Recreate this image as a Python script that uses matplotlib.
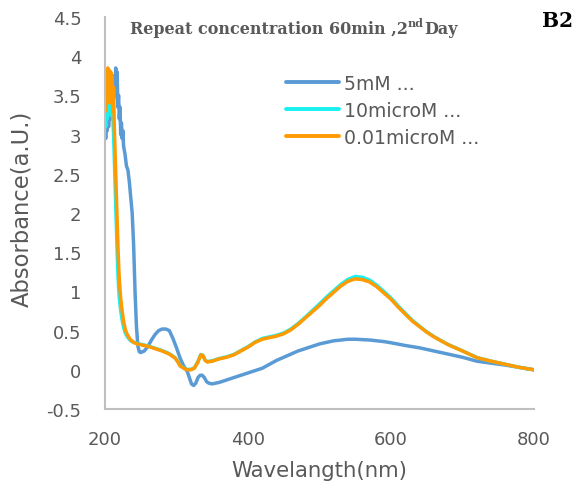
import matplotlib
matplotlib.use("Agg")
import matplotlib.pyplot as plt

# ---------------- data ----------------
wl_5mM = [200, 201, 202, 203, 204, 205, 206, 207, 208, 209, 210, 211, 212, 213, 214, 215,
          216, 217, 218, 219, 220, 221, 222, 223, 224, 225, 226, 228, 230, 232, 234, 236,
          238, 240, 242, 244, 246, 248, 250, 255, 260, 265, 270, 275, 280, 285, 290, 295,
          300, 305, 310, 315, 318, 321, 324, 327, 330, 333, 336, 339, 342, 345, 350, 360,
          370, 380, 390, 400, 410, 420, 430, 440, 450, 460, 470, 480, 490, 500, 510, 520,
          530, 540, 550, 560, 570, 580, 590, 600, 620, 640, 660, 680, 700, 720, 740, 760,
          780, 800]
abs_5mM = [3.2, 2.95, 3.35, 3.05, 3.4, 3.1, 3.3, 3.5, 3.2, 3.6, 3.3, 3.7, 3.45, 3.75, 3.5, 3.85,
           3.55, 3.8, 3.35, 3.5, 3.2, 3.35, 3.0, 3.15, 2.95, 3.05, 2.85, 2.75, 2.6, 2.55, 2.4, 2.2,
           2.0, 1.6, 1.0, 0.55, 0.3, 0.23, 0.22, 0.24, 0.3, 0.38, 0.45, 0.5, 0.52, 0.52, 0.5, 0.4,
           0.28, 0.15, 0.05, -0.02, -0.1, -0.18, -0.2, -0.17, -0.1, -0.07, -0.07, -0.1, -0.15, -0.17, -0.18, -0.16,
           -0.13, -0.1, -0.07, -0.04, -0.01, 0.02, 0.07, 0.12, 0.16, 0.2, 0.24, 0.27, 0.3, 0.33, 0.35, 0.37,
           0.38, 0.39, 0.39, 0.385, 0.38, 0.37, 0.36, 0.345, 0.31, 0.28, 0.24, 0.2, 0.16, 0.11, 0.085, 0.06,
           0.03, 0.0]

wl_10uM = [200, 201, 202, 203, 204, 205, 206, 207, 208, 209, 210, 211, 212, 213, 214, 215,
           216, 217, 218, 219, 220, 222, 224, 226, 228, 230, 233, 236, 240, 245, 250, 260,
           270, 280, 290, 298, 302, 305, 310, 315, 320, 325, 330, 334, 337, 340, 343, 350,
           360, 370, 380, 390, 400, 410, 420, 430, 440, 450, 460, 470, 480, 490, 500, 510,
           520, 530, 540, 550, 560, 570, 580, 590, 600, 610, 620, 630, 640, 650, 660, 670,
           680, 690, 700, 720, 740, 760, 780, 800]
abs_10uM = [3.6, 3.1, 3.7, 3.2, 3.75, 3.3, 3.7, 3.25, 3.65, 3.3, 3.55, 3.2, 3.0, 2.7, 2.4, 2.1,
            1.8, 1.5, 1.25, 1.05, 0.92, 0.75, 0.63, 0.54, 0.48, 0.44, 0.4, 0.37, 0.35, 0.335, 0.325, 0.305,
            0.275, 0.245, 0.205, 0.155, 0.105, 0.055, 0.025, 0.005, 0.005, 0.025, 0.105, 0.195, 0.185, 0.125, 0.105, 0.115,
            0.145, 0.165, 0.195, 0.245, 0.295, 0.355, 0.4, 0.42, 0.44, 0.47, 0.52, 0.59, 0.67, 0.755, 0.84, 0.93,
            1.01, 1.09, 1.155, 1.19, 1.18, 1.145, 1.08, 1.0, 0.915, 0.815, 0.72, 0.63, 0.555, 0.485, 0.425, 0.372,
            0.322, 0.282, 0.242, 0.157, 0.11, 0.07, 0.03, 0.0]

wl_001uM = [201, 202, 203, 204, 205, 206, 207, 208, 209, 210, 211, 212, 213, 214, 215, 216,
            217, 218, 219, 220, 222, 224, 226, 228, 230, 233, 236, 240, 245, 250, 260, 270,
            280, 290, 298, 302, 305, 310, 315, 320, 325, 330, 334, 337, 340, 343, 350, 360,
            370, 380, 390, 400, 410, 420, 430, 440, 450, 460, 470, 480, 490, 500, 510, 520,
            530, 540, 550, 560, 570, 580, 590, 600, 610, 620, 630, 640, 650, 660, 670, 680,
            690, 700, 720, 740, 760, 780, 800]
abs_001uM = [3.3, 3.75, 3.4, 3.85, 3.5, 3.82, 3.45, 3.8, 3.4, 3.75, 3.3, 3.6, 3.1, 2.8, 2.5, 2.2,
             1.9, 1.6, 1.35, 1.15, 0.9, 0.75, 0.62, 0.53, 0.47, 0.42, 0.38, 0.35, 0.33, 0.32, 0.3, 0.27,
             0.24, 0.2, 0.15, 0.1, 0.05, 0.02, 0.0, 0.0, 0.02, 0.1, 0.19, 0.18, 0.12, 0.1, 0.11, 0.14,
             0.16, 0.19, 0.24, 0.29, 0.35, 0.39, 0.41, 0.43, 0.46, 0.51, 0.58, 0.66, 0.74, 0.82, 0.91, 0.99,
             1.07, 1.13, 1.16, 1.15, 1.12, 1.06, 0.98, 0.9, 0.8, 0.71, 0.62, 0.55, 0.48, 0.42, 0.37, 0.32,
             0.28, 0.24, 0.155, 0.11, 0.07, 0.03, 0.0]

labels = ["5mM ...", "10microM ...", "0.01microM ..."]
colors = ["#5B9BD5", "#19F0F0", "#FF9A00"]
x_ticks = [200, 400, 600, 800]
y_ticks = [-0.5, 0, 0.5, 1, 1.5, 2, 2.5, 3, 3.5, 4, 4.5]
y_ticklabels = ["-0.5", "0", "0.5", "1", "1.5", "2", "2.5", "3", "3.5", "4", "4.5"]

# ---------------- figure ----------------
W, H = 579, 485
fig = plt.figure(figsize=(W / 100, H / 100), dpi=100)
ax = fig.add_axes([105 / W, (H - 410) / H, (534 - 105) / W, (410 - 18) / H])

gray = "#595959"
sans = "DejaVu Sans"
serif = "DejaVu Serif"

series = [(wl_5mM, abs_5mM), (wl_10uM, abs_10uM), (wl_001uM, abs_001uM)]
for (x, y), lab, c in zip(series, labels, colors):
    ax.plot(x, y, color=c, lw=2.5, label=lab, solid_capstyle="round", solid_joinstyle="round")

ax.set_xlim(200, 800)
ax.set_ylim(-0.5, 4.5)
ax.set_xticks(x_ticks)
ax.set_xticklabels([str(v) for v in x_ticks], fontsize=13, color=gray, family=sans)
ax.set_yticks(y_ticks)
ax.set_yticklabels(y_ticklabels, fontsize=13, color=gray, family=sans)
ax.tick_params(axis="both", length=0)
ax.tick_params(axis="y", pad=17)
ax.tick_params(axis="x", pad=15)

for s in ["top", "right"]:
    ax.spines[s].set_visible(False)
for s in ["left", "bottom"]:
    ax.spines[s].set_color("#BFBFBF")
    ax.spines[s].set_linewidth(1.5)

fig.text(319 / W, 1 - 471 / H, "Wavelangth(nm)", ha="center", va="center",
         fontsize=15.3, color=gray, family=sans)
fig.text(22 / W, 1 - 209 / H, "Absorbance(a.U.)", ha="center", va="center",
         rotation=90, fontsize=16.3, color=gray, family=sans)

leg = ax.legend(loc="upper left", bbox_to_anchor=(286 / W, 1 - 75 / H),
                bbox_transform=fig.transFigure, frameon=False,
                prop={"family": sans, "size": 13.6}, handlelength=2.8,
                handletextpad=0.25, labelspacing=0.42, borderaxespad=0, borderpad=0)
for t in leg.get_texts():
    t.set_color(gray)
for l in leg.get_lines():
    l.set_linewidth(2.8)

# title with superscript
t1 = fig.text(130 / W, 1 - 34 / H, "Repeat concentration 60min ,2", ha="left", va="baseline",
              fontsize=11.5, fontweight="bold", color=gray, family=serif)
fig.canvas.draw()
r = fig.canvas.get_renderer()
bb = t1.get_window_extent(r)
t2 = fig.text(bb.x1 / W, 1 - 27 / H, "nd", ha="left", va="baseline",
              fontsize=8, fontweight="bold", color=gray, family=serif)
bb2 = t2.get_window_extent(r)
fig.text(bb2.x1 / W, 1 - 34 / H, "Day", ha="left", va="baseline",
         fontsize=11.5, fontweight="bold", color=gray, family=serif)

fig.text(573 / W, 1 - 27 / H, "B2", ha="right", va="baseline",
         fontsize=14.5, fontweight="bold", color="black", family=serif)

fig.savefig("out.png", dpi=100)
